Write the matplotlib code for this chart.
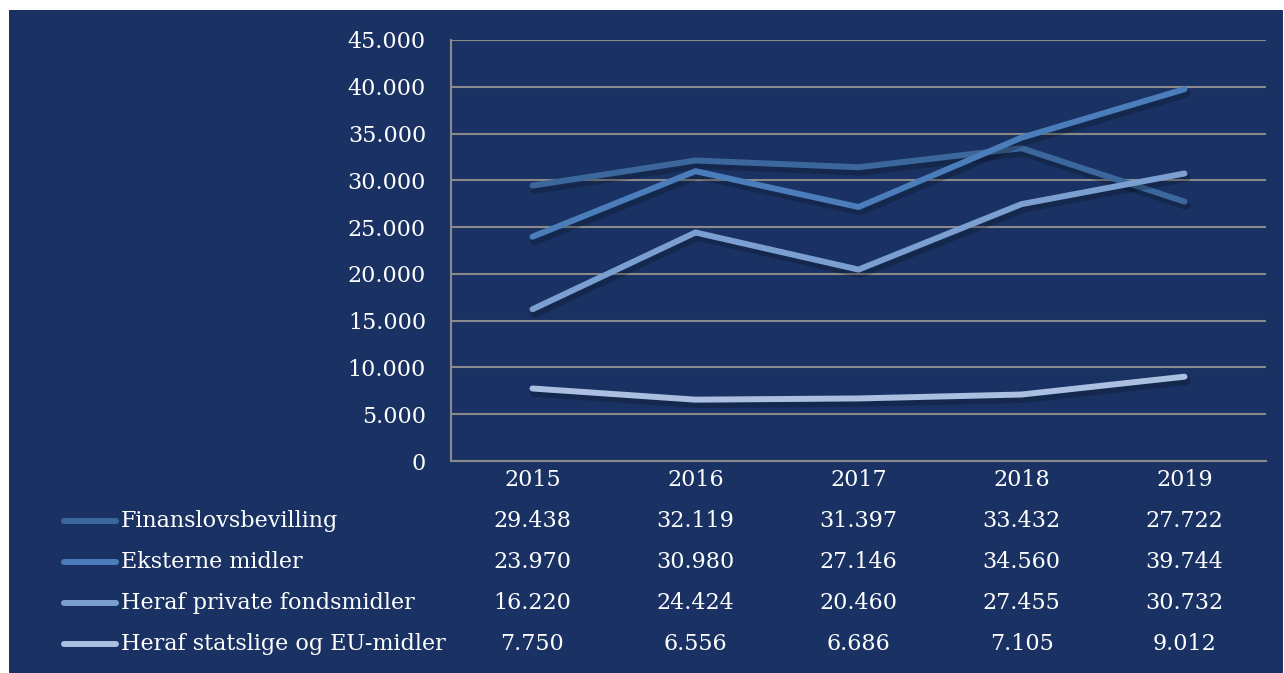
import numpy as np
import matplotlib
matplotlib.use("Agg")
from matplotlib import pyplot as plt
from matplotlib import patheffects as pe
from matplotlib.lines import Line2D
from matplotlib.patches import Rectangle
from matplotlib.transforms import blended_transform_factory
from matplotlib.ticker import FuncFormatter

# ---------------- data ----------------
years = ["2015", "2016", "2017", "2018", "2019"]
series_names = ["Finanslovsbevilling", "Eksterne midler",
                "Heraf private fondsmidler", "Heraf statslige og EU-midler"]
finanslov = [29438, 32119, 31397, 33432, 27722]
eksterne = [23970, 30980, 27146, 34560, 39744]
private = [16220, 24424, 20460, 27455, 30732]
statslige = [7750, 6556, 6686, 7105, 9012]
y_ticks = [0, 5000, 10000, 15000, 20000, 25000, 30000, 35000, 40000, 45000]

all_series = [finanslov, eksterne, private, statslige]
colors = ["#3c679c", "#4a7dba", "#7c9fd1", "#abbfe0"]

bg = "#1a3263"
grid_col = "#8a8a8a"
txt_col = "white"
font = "DejaVu Serif"
fs = 16

def dk(v):
    return f"{int(v):,}".replace(",", ".")

W, H = 1284, 673
fig = plt.figure(figsize=(W / 100, H / 100), dpi=100, facecolor="white")
fig.patches.append(Rectangle((9 / W, 0), (1283 - 9) / W, (H - 10) / H,
                             transform=fig.transFigure, facecolor=bg,
                             edgecolor="none", zorder=-10))

ax = fig.add_axes([451 / W, 1 - 461 / H, (1266 - 451) / W, (461 - 40) / H])
ax.set_facecolor(bg)
ax.patch.set_alpha(0)

x = np.arange(len(years))
shadow = [pe.SimpleLineShadow(offset=(1.5, -3), shadow_color="black", alpha=0.22,
                              linewidth=6),
          pe.Normal()]
for vals, c in zip(all_series, colors):
    ax.plot(x, vals, color=c, lw=4.3, solid_capstyle="round",
            solid_joinstyle="round", path_effects=shadow, zorder=3)

ax.set_xlim(-0.5, len(years) - 0.5)
ax.set_ylim(0, 45000)
ax.set_yticks(y_ticks)
ax.yaxis.set_major_formatter(FuncFormatter(lambda v, p: dk(v)))
ax.set_xticks(x)
ax.set_xticklabels(years)
ax.grid(axis="y", color=grid_col, lw=1.5, zorder=1)
ax.set_axisbelow(True)
for s in ["top", "right"]:
    ax.spines[s].set_visible(False)
for s in ["left", "bottom"]:
    ax.spines[s].set_color(grid_col)
    ax.spines[s].set_linewidth(1.5)
ax.tick_params(axis="both", length=0, colors=txt_col, labelsize=fs)
ax.tick_params(axis="y", pad=18)
ax.tick_params(axis="x", pad=6)
for lab in ax.get_xticklabels() + ax.get_yticklabels():
    lab.set_fontfamily(font)

# ---------------- data table ----------------
trans = blended_transform_factory(ax.transData, fig.transFigure)
row_y = [521, 562, 603, 644]
for name, vals, c, ry in zip(series_names, all_series, colors, row_y):
    yf = 1 - ry / H
    fig.add_artist(Line2D([64 / W, 116 / W], [yf, yf], transform=fig.transFigure,
                          color=c, lw=4.3, solid_capstyle="round"))
    fig.text(121 / W, yf, name, color=txt_col, fontsize=fs, family=font,
             va="center", ha="left")
    for xi, v in zip(x, vals):
        ax.text(xi, yf, dk(v), transform=trans, color=txt_col, fontsize=fs,
                family=font, va="center", ha="center", clip_on=False)

fig.savefig("out.png", dpi=100, facecolor="white")
